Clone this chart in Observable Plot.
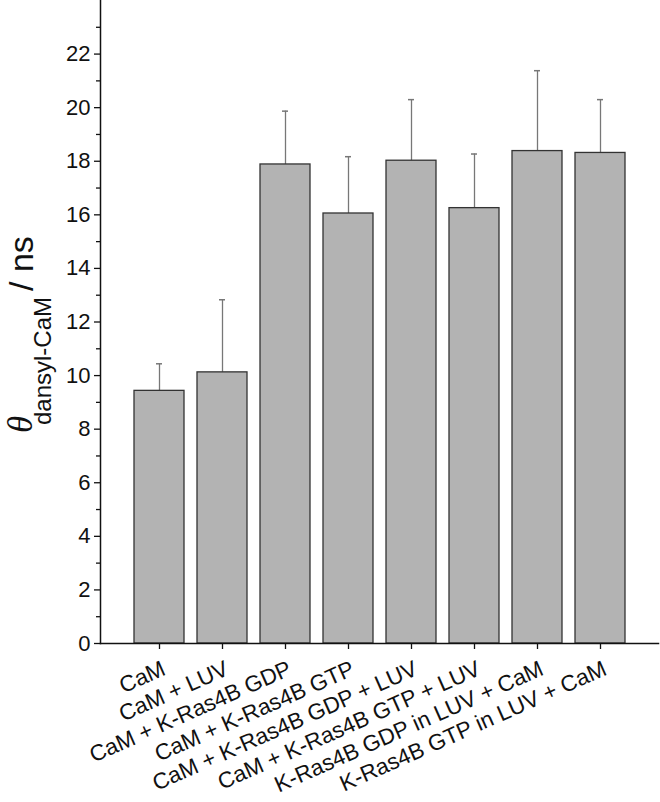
<!DOCTYPE html>
<html><head>
<meta charset="utf-8">
<script src="https://cdn.jsdelivr.net/npm/d3@7"></script>
<script src="https://cdn.jsdelivr.net/npm/@observablehq/plot@0.6"></script>
<style>body{margin:0;background:#fff;} #chart{width:660px;height:802px;}</style>
</head><body><div id="chart"></div>
<script>
const categories = ["CaM", "CaM + LUV", "CaM + K-Ras4B GDP", "CaM + K-Ras4B GTP", "CaM + K-Ras4B GDP + LUV", "CaM + K-Ras4B GTP + LUV", "K-Ras4B GDP in LUV + CaM", "K-Ras4B GTP in LUV + CaM"];
const values = [9.43, 10.12, 17.88, 16.05, 18.02, 16.25, 18.38, 18.31];
const errors = [1.01, 2.71, 1.99, 2.12, 2.28, 2.02, 3.00, 1.99];
const majorTicks = [0, 2, 4, 6, 8, 10, 12, 14, 16, 18, 20, 22];
const minorTicks = [1, 3, 5, 7, 9, 11, 13, 15, 17, 19, 21, 23];

const data = categories.map((c, i) => ({c, v: values[i], top: values[i] + errors[i]}));
const FONT = "'Liberation Sans', Arial, sans-serif";

const plot = Plot.plot({
  width: 660, height: 802,
  marginTop: 0, marginLeft: 100, marginRight: 2, marginBottom: 159,
  style: {fontFamily: FONT, background: "white", color: "#111", overflow: "visible"},
  x: {domain: categories, paddingInner: 0.21, paddingOuter: 0.51, label: null},
  y: {domain: [0, 24], label: null},
  marks: [
    Plot.ruleX(data, {x: "c", y1: "v", y2: "top", stroke: "#777", strokeWidth: 1.3}),
    Plot.tickY(data, {x: "c", y: "top", stroke: "#777", strokeWidth: 1.5, insetLeft: 22, insetRight: 22}),
    Plot.barY(data, {x: "c", y: "v", fill: "#b3b3b3", stroke: "#333", strokeWidth: 1.3}),
    Plot.axisY({ticks: majorTicks, tickSize: 6, tickFormat: () => "", label: null, strokeWidth: 1.3}),
    Plot.axisY({ticks: minorTicks, tickSize: 4, tickFormat: () => "", label: null, strokeWidth: 1.3}),
    Plot.text(majorTicks, {y: d => d, text: d => String(d), frameAnchor: "left", textAnchor: "end",
      dx: -10, fontSize: 22, fill: "#111"}),
    Plot.axisX({tickSize: 6, tickFormat: () => "", label: null, strokeWidth: 1.3}),
    Plot.text(categories, {x: d => d, text: d => d, frameAnchor: "bottom", textAnchor: "end", lineAnchor: "top",
      rotate: -24, dx: 1, dy: 16, fontSize: 22.5, fill: "#111"}),
    Plot.frame({anchor: "left", stroke: "#111", strokeWidth: 1.5}),
    Plot.frame({anchor: "bottom", stroke: "#111", strokeWidth: 1.5})
  ]
});
document.getElementById("chart").appendChild(plot);

const svg = d3.select(plot);

// y-axis title with italic theta and subscript
const t = svg.append("text")
  .attr("transform", "rotate(-90)")
  .attr("text-anchor", "start")
  .attr("fill", "#111")
  .style("font-family", FONT);
t.append("tspan").text("θ").attr("x", -433).attr("y", 32)
  .style("font-style", "italic").style("font-size", "35px")
  .style("font-family", "'Liberation Serif', 'Times New Roman', serif");
t.append("tspan").text("dansyl-CaM").attr("x", -425).attr("y", 51).style("font-size", "24px");
t.append("tspan").text("/ ns").attr("x", -291).attr("y", 33).style("font-size", "34px").attr("xml:space", "preserve");
</script>
</body></html>
